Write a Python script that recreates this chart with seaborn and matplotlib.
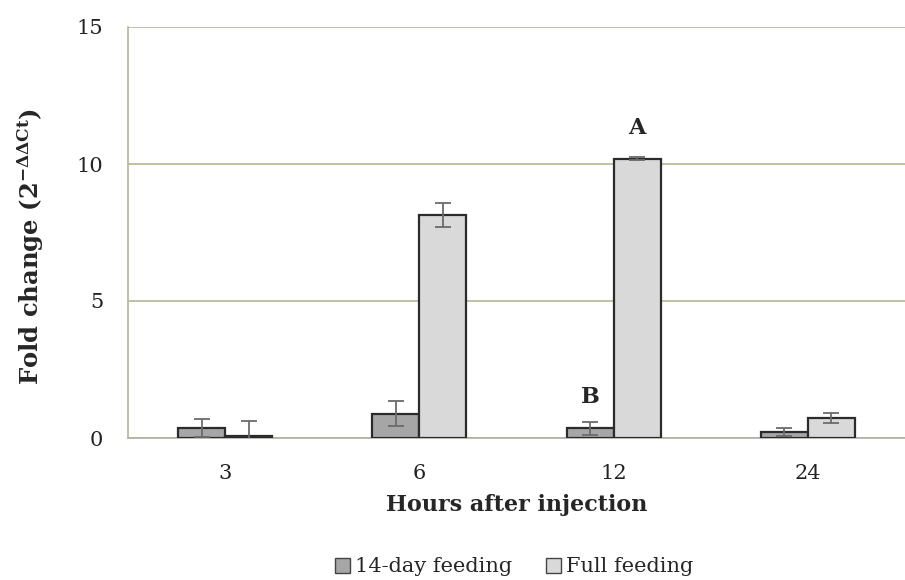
import matplotlib
matplotlib.use("Agg")
import matplotlib.pyplot as plt
from matplotlib.patches import Patch
import numpy as np
import pandas as pd
import seaborn as sns

hours = ["3", "6", "12", "24"]
groups = ["14-day feeding", "Full feeding"]
fold_14day = [0.37, 0.89, 0.36, 0.22]
fold_full = [0.08, 8.14, 10.20, 0.74]
err_14day = [0.33, 0.47, 0.24, 0.15]
err_full = [0.55, 0.45, 0.05, 0.18]
y_ticks = [0, 5, 10, 15]

colors = ["#a6a6a6", "#d9d9d9"]
grid_color = "#b5b597"

sns.set_theme(style="white")
plt.rcParams["font.family"] = ["DejaVu Serif"]
plt.rcParams["mathtext.fontset"] = "dejavuserif"

df = pd.DataFrame({
    "hour": hours * 2,
    "group": [groups[0]] * 4 + [groups[1]] * 4,
    "fold": fold_14day + fold_full,
    "err": err_14day + err_full,
})

fig = plt.figure(figsize=(9.05, 5.8), dpi=100)
ax = fig.add_axes([128 / 905, 1 - 438 / 580, (905 - 128) / 905, (438 - 27) / 580])

sns.barplot(data=df, x="hour", y="fold", hue="group", order=hours,
            hue_order=groups, palette=colors, width=0.485, dodge=True,
            edgecolor="#2b2b2b", linewidth=1.6, errorbar=None, legend=False,
            ax=ax, zorder=3)

# error bars centred on each drawn bar
bars = [p for p in ax.patches]
errs = err_14day + err_full
vals = fold_14day + fold_full
for bar, v, e in zip(bars, vals, errs):
    cx = bar.get_x() + bar.get_width() / 2
    ax.errorbar(cx, v, yerr=e, fmt="none", ecolor="#6b6b6b",
                elinewidth=1.3, capsize=6, capthick=1.3, zorder=4)

ax.set_ylim(0, 15)
ax.set_xlim(-0.5, 3.5)
ax.set_yticks(y_ticks)
ax.yaxis.grid(True, color=grid_color, linewidth=1.2, zorder=0)
ax.set_axisbelow(True)
for side in ["top", "right"]:
    ax.spines[side].set_visible(False)
ax.spines["left"].set_color(grid_color)
ax.spines["bottom"].set_color("#b0b0a0")
ax.spines["left"].set_linewidth(1.2)
ax.spines["bottom"].set_linewidth(1.2)
ax.tick_params(axis="both", length=0, labelsize=15, colors="#222222")
ax.tick_params(axis="x", pad=19)
ax.tick_params(axis="y", pad=18)

ax.set_xlabel("Hours after injection", fontsize=16, fontweight="bold", labelpad=8)
ax.set_ylabel(r"Fold change (2$^{\mathbf{-\Delta\Delta Ct}}$)", fontsize=17.5,
              fontweight="bold")
ax.yaxis.set_label_coords(-0.105, 0.465)

# significance letters for the 12 h group
b14, bfull = bars[2], bars[6]
ax.text(bfull.get_x() + bfull.get_width() / 2, fold_full[2] + 0.72, "A",
        ha="center", va="bottom", fontsize=16, fontweight="bold")
ax.text(b14.get_x() + b14.get_width() / 2, fold_14day[2] + 0.75, "B",
        ha="center", va="bottom", fontsize=16, fontweight="bold")

handles = [Patch(facecolor=c, edgecolor="#444444", linewidth=1.0) for c in colors]
fig.legend(handles, groups, loc="center", bbox_to_anchor=(514 / 905, 1 - 567 / 580),
           ncol=2, frameon=False, fontsize=15, handlelength=0.72,
           handleheight=0.72, handletextpad=0.25, columnspacing=1.6)

fig.savefig("out.png", dpi=100)
